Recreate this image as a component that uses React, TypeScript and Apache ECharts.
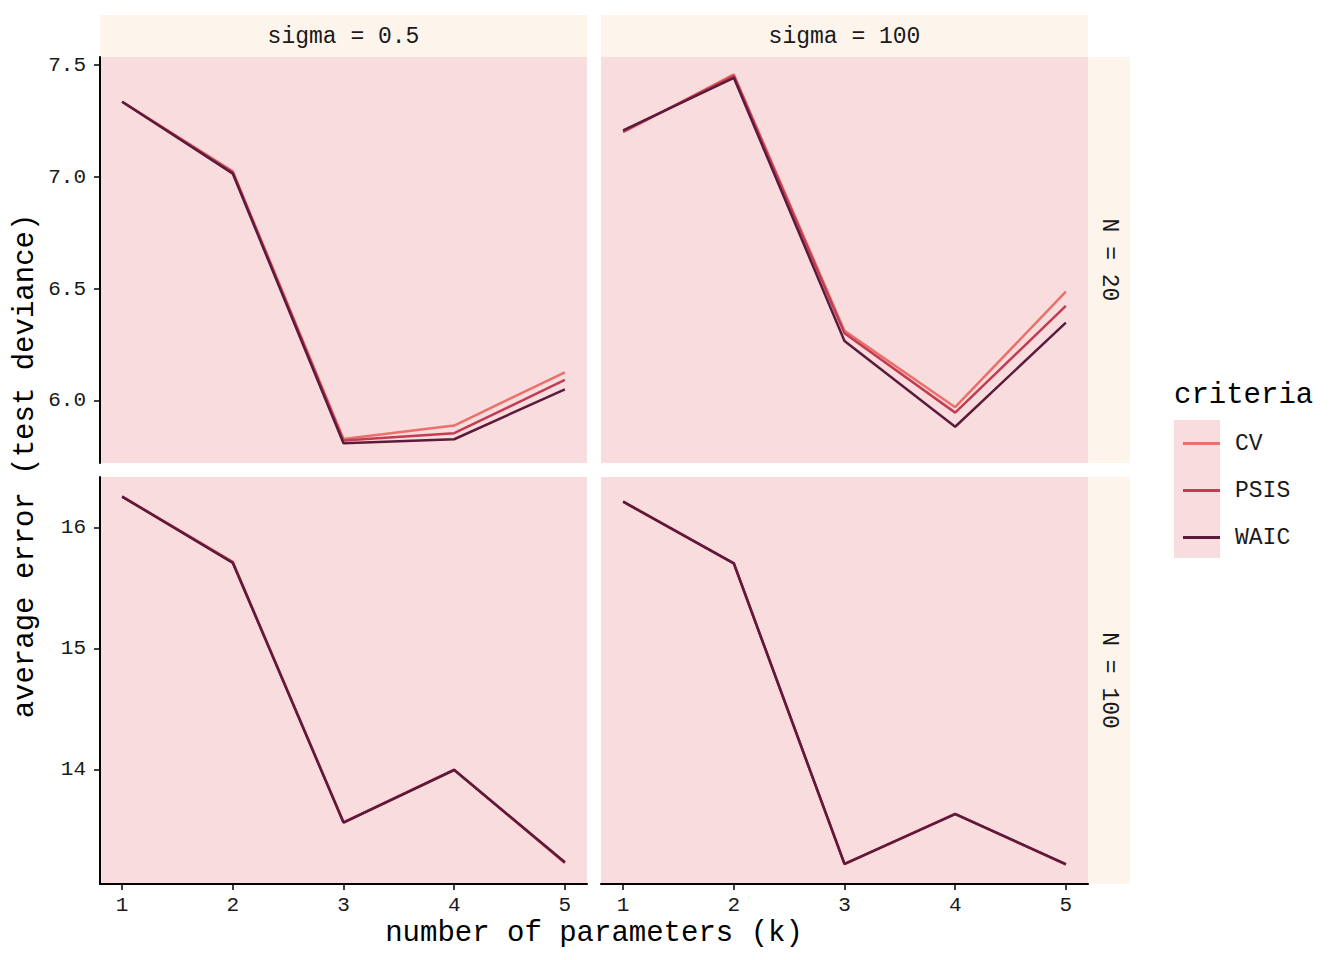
import React, { useEffect, useRef } from "react";
import * as echarts from "echarts";

// ---- data ----
const ks = [1, 2, 3, 4, 5];
const criteria = ["CV", "PSIS", "WAIC"];
const colors = ["#E9716A", "#C23C53", "#5C1B3D"];

// sigma = 0.5, N = 20
const s05n20CV = [7.336, 7.025, 5.83, 5.89, 6.128];
const s05n20PSIS = [7.336, 7.021, 5.823, 5.856, 6.094];
const s05n20WAIC = [7.336, 7.015, 5.811, 5.829, 6.052];
// sigma = 100, N = 20
const s100n20CV = [7.2, 7.458, 6.313, 5.972, 6.488];
const s100n20PSIS = [7.203, 7.452, 6.302, 5.948, 6.425];
const s100n20WAIC = [7.208, 7.443, 6.268, 5.885, 6.35];
// sigma = 0.5, N = 100
const s05n100CV = [16.259, 15.72, 13.568, 14.003, 13.232];
const s05n100PSIS = [16.259, 15.715, 13.568, 14.001, 13.235];
const s05n100WAIC = [16.259, 15.711, 13.566, 14.0, 13.238];
// sigma = 100, N = 100
const s100n100CV = [16.217, 15.708, 13.223, 13.638, 13.218];
const s100n100PSIS = [16.217, 15.708, 13.223, 13.637, 13.22];
const s100n100WAIC = [16.217, 15.707, 13.224, 13.636, 13.222];

const xTicks = [1, 2, 3, 4, 5];
const yTicksN20 = [6.0, 6.5, 7.0, 7.5];
const yTicksN100 = [14, 15, 16];
const colStrips = ["sigma = 0.5", "sigma = 100"];
const rowStrips = ["N = 20", "N = 100"];

const FONT = "Liberation Mono";
const PANEL_BG = "#F9DCDD";
const STRIP_BG = "#FDF5EC";
const TEXT = "#1a1a1a";

export default function App() {
  const ref = useRef<HTMLDivElement>(null);
  useEffect(() => {
    document.body.style.margin = "0";
    const chart = echarts.init(ref.current!, undefined, { renderer: "svg" });

    const cols = [
      { left: 100, width: 487 },
      { left: 601, width: 487 },
    ];
    const rows = [
      { top: 57, height: 406 },
      { top: 477, height: 407 },
    ];
    const panels = [
      { r: 0, c: 0, data: [s05n20CV, s05n20PSIS, s05n20WAIC] },
      { r: 0, c: 1, data: [s100n20CV, s100n20PSIS, s100n20WAIC] },
      { r: 1, c: 0, data: [s05n100CV, s05n100PSIS, s05n100WAIC] },
      { r: 1, c: 1, data: [s100n100CV, s100n100PSIS, s100n100WAIC] },
    ];
    const yRanges = [
      { min: 5.723, max: 7.536, ticks: yTicksN20, fmt: (v: number) => v.toFixed(1) },
      { min: 13.058, max: 16.421, ticks: yTicksN100, fmt: (v: number) => String(v) },
    ];

    const grid = panels.map((p) => ({
      left: cols[p.c].left,
      width: cols[p.c].width,
      top: rows[p.r].top,
      height: rows[p.r].height,
      show: true,
      backgroundColor: PANEL_BG,
      borderWidth: 0,
    }));

    const xAxis = panels.map((p, i) => ({
      type: "value",
      gridIndex: i,
      min: 0.8,
      max: 5.2,
      show: p.r === 1,
      splitLine: { show: false },
      axisLine: { show: true, onZero: false, lineStyle: { color: "#000", width: 2 } },
      axisTick: { show: true, length: 6, customValues: xTicks, lineStyle: { color: "#000", width: 1.5 } },
      axisLabel: {
        customValues: xTicks,
        fontFamily: FONT,
        fontSize: 21,
        color: TEXT,
        margin: 11,
      },
    }));

    const yAxis = panels.map((p, i) => {
      const yr = yRanges[p.r];
      return {
        type: "value",
        gridIndex: i,
        min: yr.min,
        max: yr.max,
        show: p.c === 0,
        splitLine: { show: false },
        axisLine: { show: true, onZero: false, lineStyle: { color: "#000", width: 2 } },
        axisTick: { show: true, length: 6, customValues: yr.ticks, lineStyle: { color: "#000", width: 1.5 } },
        axisLabel: {
          customValues: yr.ticks,
          formatter: yr.fmt,
          fontFamily: FONT,
          fontSize: 21,
          color: TEXT,
          margin: 14,
        },
      };
    });

    const series: any[] = [];
    panels.forEach((p, i) => {
      criteria.forEach((name, j) => {
        series.push({
          type: "line",
          name,
          xAxisIndex: i,
          yAxisIndex: i,
          data: ks.map((k, idx) => [k, p.data[j][idx]]),
          symbol: "none",
          lineStyle: { color: colors[j], width: 2.5 },
          itemStyle: { color: colors[j] },
          z: 2 + j,
        });
      });
    });

    const graphic: any[] = [];
    // column strips
    colStrips.forEach((t, c) => {
      graphic.push({
        type: "rect",
        shape: { x: cols[c].left, y: 15, width: cols[c].width, height: 42 },
        style: { fill: STRIP_BG },
        silent: true,
      });
      graphic.push({
        type: "text",
        x: cols[c].left + cols[c].width / 2,
        y: 37,
        style: {
          text: t,
          fill: TEXT,
          font: `23px "${FONT}"`,
          align: "center",
          verticalAlign: "middle",
        },
        silent: true,
      });
    });
    // row strips
    rowStrips.forEach((t, r) => {
      graphic.push({
        type: "rect",
        shape: { x: 1088, y: rows[r].top, width: 42, height: rows[r].height },
        style: { fill: STRIP_BG },
        silent: true,
      });
      graphic.push({
        type: "text",
        x: 1109,
        y: rows[r].top + rows[r].height / 2,
        rotation: -Math.PI / 2,
        style: {
          text: t,
          fill: TEXT,
          font: `23px "${FONT}"`,
          align: "center",
          verticalAlign: "middle",
        },
        silent: true,
      });
    });
    // axis titles
    graphic.push({
      type: "text",
      x: 594,
      y: 933,
      style: {
        text: "number of parameters (k)",
        fill: "#000",
        font: `29px "${FONT}"`,
        align: "center",
        verticalAlign: "middle",
      },
      silent: true,
    });
    graphic.push({
      type: "text",
      x: 25,
      y: 466,
      rotation: Math.PI / 2,
      style: {
        text: "average error (test deviance)",
        fill: "#000",
        font: `29px "${FONT}"`,
        align: "center",
        verticalAlign: "middle",
      },
      silent: true,
    });
    // legend title and key background
    graphic.push({
      type: "text",
      x: 1174,
      y: 395,
      style: {
        text: "criteria",
        fill: "#000",
        font: `29px "${FONT}"`,
        align: "left",
        verticalAlign: "middle",
      },
      silent: true,
    });
    graphic.push({
      type: "rect",
      shape: { x: 1174, y: 420, width: 46, height: 138 },
      style: { fill: PANEL_BG },
      silent: true,
      z: -1,
    });

    chart.setOption({
      animation: false,
      backgroundColor: "#ffffff",
      grid,
      xAxis,
      yAxis,
      series,
      graphic,
      legend: {
        show: true,
        orient: "vertical",
        left: 1178,
        top: 415,
        data: criteria.map((n, j) => ({ name: n, icon: "rect", itemStyle: { color: colors[j] } })),
        itemWidth: 37,
        itemHeight: 3,
        itemGap: 0,
        selectedMode: false,
        textStyle: {
          fontFamily: FONT,
          fontSize: 23,
          color: TEXT,
          lineHeight: 47,
          padding: [0, 0, 0, 10],
        },
      },
    });
    return () => chart.dispose();
  }, []);
  return <div ref={ref} style={{ width: 1344, height: 960 }} />;
}
